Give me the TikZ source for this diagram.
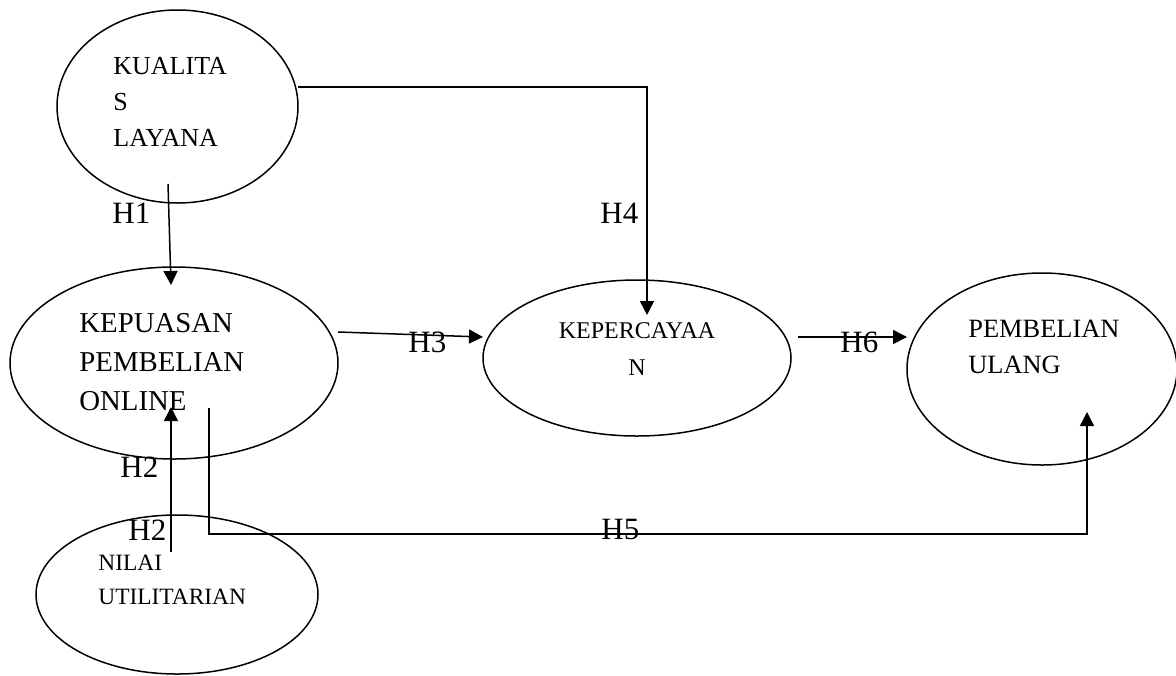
\documentclass[tikz,border=0pt]{standalone}
\usepackage{fontspec}
\setmainfont{Liberation Serif}
\usetikzlibrary{arrows.meta, positioning, shapes.geometric}

\begin{document}
\begin{tikzpicture}[x=0.5pt,y=-0.5pt,>={Triangle[length=7pt,width=7pt]},
    var/.style={draw,ellipse,line width=0.75pt,inner sep=0pt},
    txt/.style={inner sep=0pt,align=left,anchor=north west},
    hyp/.style={inner sep=0pt,anchor=north west,font=\fontsize{15.5}{18}\selectfont},
    link/.style={->,line width=0.75pt}]

    \useasboundingbox (0,0) rectangle (1176,675);

    % variables
    \node[var,minimum width=120.5pt,minimum height=96.5pt] (kualitas) at (177.5,106.5) {};
    \node[var,minimum width=164pt,minimum height=96pt] (kepuasan) at (174,363) {};
    \node[var,minimum width=154pt,minimum height=78pt] (kepercayaan) at (637,358) {};
    \node[var,minimum width=135pt,minimum height=96pt] (ulang) at (1042,369) {};
    \node[var,minimum width=141pt,minimum height=79.5pt] (nilai) at (177,594.5) {};

    \node[txt,font=\fontsize{13}{18}\selectfont] (kualitas_t) at (113,57) {KUALITA\\S\\LAYANA};
    \node[txt,font=\fontsize{14.4}{19.5}\selectfont] (kepuasan_t) at (79,313) {KEPUASAN\\PEMBELIAN\\ONLINE};
    \node[txt,align=center,anchor=north,font=\fontsize{12}{18.5}\selectfont] (kepercayaan_t) at (637,322) {KEPERCAYAA\\N};
    \node[txt,font=\fontsize{13.2}{18}\selectfont] (ulang_t) at (968,320) {PEMBELIAN\\ULANG};
    \node[txt,font=\fontsize{11.7}{17}\selectfont] (nilai_t) at (98,555) {NILAI\\UTILITARIAN};

    % connector ends
    \coordinate (h1_a) at (168,184);
    \coordinate (h1_b) at (171,285);
    \coordinate (h4_a) at (298,87);
    \coordinate (h4_b) at (647,315);
    \coordinate (h3_a) at (338,332);
    \coordinate (h3_b) at (483,337);
    \coordinate (h6_a) at (798,337);
    \coordinate (h6_b) at (907,337);
    \coordinate (h5_a) at (209,408);
    \coordinate (h5_c) at (1087,534);
    \coordinate (h5_b) at (1087,412);
    \coordinate (h2_a) at (171,552);
    \coordinate (h2_b) at (171,407);

    \draw[link] (h1_a) -- (h1_b);
    \draw[link] (h4_a) -| (h4_b);
    \draw[link] (h3_a) -- (h3_b);
    \draw[link] (h6_a) -- (h6_b);
    \draw[link] (h5_a) |- (h5_c) -- (h5_b);
    \draw[link] (h2_a) -- (h2_b);

    % hypotheses
    \node[hyp] (h1) at (112,203) {H1};
    \node[hyp] (h4) at (600,203) {H4};
    \node[hyp] (h3) at (408,332) {H3};
    \node[hyp] (h6) at (840,332) {H6};
    \node[hyp] (h5) at (601,519) {H5};
    \node[hyp] (h2a) at (120,457) {H2};
    \node[hyp] (h2b) at (128,520) {H2};
\end{tikzpicture}
\end{document}
